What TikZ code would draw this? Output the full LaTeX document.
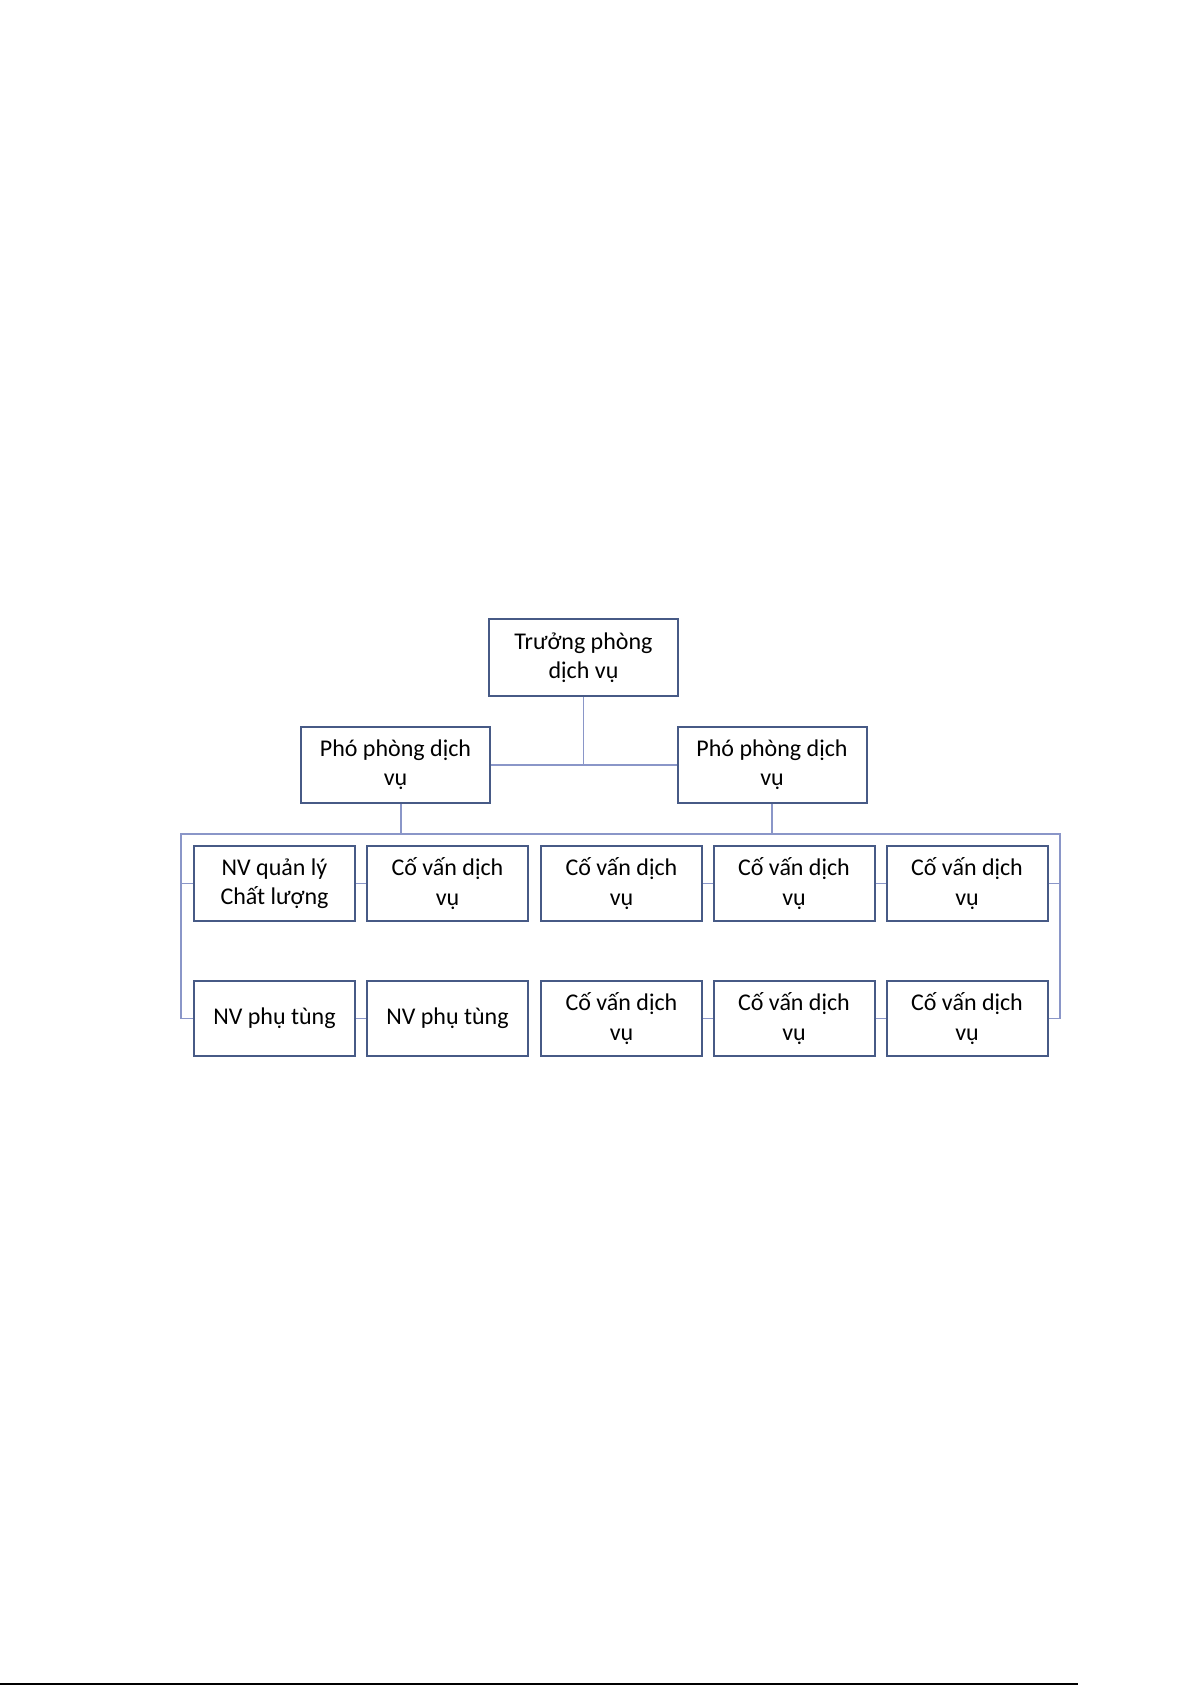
\documentclass[tikz,border=0pt]{standalone}
\usepackage{fontspec}
\setmainfont{Carlito}
\definecolor{boxc}{HTML}{475A86}
\definecolor{linec}{HTML}{8A96C8}
\begin{document}
\begin{tikzpicture}[x=0.5pt,y=-0.5pt,
  box/.style={draw=boxc, line width=1pt, fill=white, align=center, inner sep=0pt,
    minimum width=80.5pt, minimum height=37.5pt, font=\fontsize{12}{14.6}\selectfont},
  bigbox/.style={box, minimum width=94.5pt, minimum height=38pt},
  conn/.style={draw=linec, line width=0.8pt}]
\useasboundingbox (0,0) rectangle (1192,1685);
% top levels
\node[bigbox, minimum height=38.5pt] (top) at (583.5,657.5) {Trưởng phòng\\dịch vụ};
\node[bigbox] (lp) at (395.5,765) {Phó phòng dịch\\vụ};
\node[bigbox] (rp) at (772,765) {Phó phòng dịch\\vụ};
% row 1
\node[box] (a1) at (274.5,883.5) {NV quản lý\\Chất lượng};
\node[box] (b1) at (447.5,883.5) {Cố vấn dịch\\vụ};
\node[box] (c1) at (621.5,883.5) {Cố vấn dịch\\vụ};
\node[box] (d1) at (794,883.5) {Cố vấn dịch\\vụ};
\node[box] (e1) at (967,883.5) {Cố vấn dịch\\vụ};
% row 2
\node[box] (a2) at (274.5,1018.5) {NV phụ tùng};
\node[box] (b2) at (447.5,1018.5) {NV phụ tùng};
\node[box] (c2) at (621.5,1018.5) {Cố vấn dịch\\vụ};
\node[box] (d2) at (794,1018.5) {Cố vấn dịch\\vụ};
\node[box] (e2) at (967,1018.5) {Cố vấn dịch\\vụ};
% bus coordinates
\coordinate (busL) at (181,834);
\coordinate (busR) at (1060,834);
% connectors
\draw[conn] (lp.east) -- (rp.west);
\draw[conn] (top.south) -- (top.south |- lp.east);
\draw[conn] ([xshift=2.75pt]lp.south) -- ([xshift=2.75pt]lp.south |- busL);
\draw[conn] (rp.south) -- (rp.south |- busL);
\draw[conn] (busL |- a2.west) -- (busL) -- (busR) -- (busR |- e2.east);
\draw[conn] (busL |- a1.west) -- (a1.west);
\draw[conn] (busL |- a2.west) -- (a2.west);
\draw[conn] (e1.east) -- (busR |- e1.east);
\draw[conn] (e2.east) -- (busR |- e2.east);
\draw[conn] (a1.east) -- (b1.west);
\draw[conn] (c1.east) -- (d1.west);
\draw[conn] (d1.east) -- (e1.west);
\draw[conn] (a2.east) -- (b2.west);
\draw[conn] (c2.east) -- (d2.west);
\draw[conn] (d2.east) -- (e2.west);
% page rule at bottom
\draw[black, line width=0.6pt] (0,1684) -- (1078,1684);
\end{tikzpicture}
\end{document}
